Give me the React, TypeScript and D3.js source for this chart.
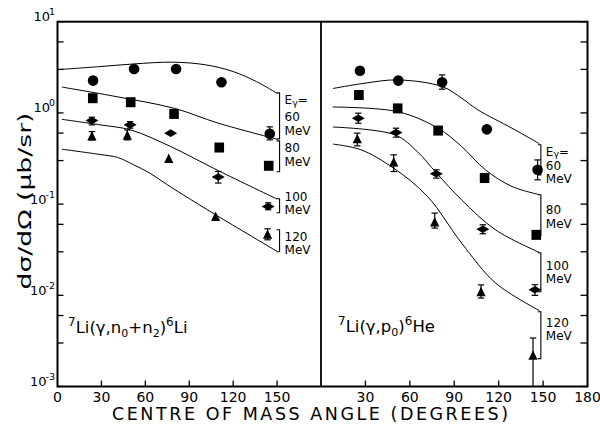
import React from 'react';
import * as d3 from 'd3';

// ---------- axis ticks ----------
const ANGLE_TICKS_LEFT = [0, 30, 60, 90, 120, 150];
const ANGLE_TICKS_RIGHT = [0, 30, 60, 90, 120, 150, 180];
const DECADES = [1e-3, 1e-2, 1e-1, 1, 10];
const DECADE_EXP = ['-3', '-2', '-1', '0', '1'];
const MINOR_MULT = [3, 6];
const ENERGIES = ['60', '80', '100', '120'];

// ---------- left panel: 7Li(γ,n0+n2)6Li ----------
const L_CIRCLE_ANG = [24.3, 52.3, 81, 112, 145];
const L_CIRCLE_VAL = [2.26, 3.03, 3.03, 2.17, 0.59];
const L_CIRCLE_ERR = [null, null, null, null, [0.506, 0.703]];
const L_SQUARE_ANG = [24.1, 50, 79.6, 110.5, 144.3];
const L_SQUARE_VAL = [1.45, 1.31, 0.975, 0.417, 0.263];
const L_SQUARE_ERR = [null, null, null, null, null];
const L_DIAMOND_ANG = [23.5, 49.6, 77.3, 109.8, 143.9];
const L_DIAMOND_VAL = [0.824, 0.74, 0.6, 0.198, 0.094];
const L_DIAMOND_ERR = [[0.739, 0.897], [0.68, 0.803], null, [0.17, 0.228], [0.0867, 0.1033]];
const L_TRIANGLE_ANG = [23.5, 47.7, 76, 108, 143.5];
const L_TRIANGLE_VAL = [0.55, 0.56, 0.313, 0.072, 0.046];
const L_TRIANGLE_ERR = [[0.506, 0.624], [0.506, 0.65], null, null, [0.0406, 0.0536]];

const L_CURVE_60 = [[3, 3.0], [29, 3.22], [52, 3.44], [79, 3.6], [102, 3.35], [120, 2.84], [136, 2.2], [150, 1.64]];
const L_CURVE_80 = [[3, 1.92], [40, 1.51], [80, 1.12], [110, 0.77], [150, 0.515]];
const L_CURVE_100 = [[3, 0.85], [29, 0.74], [50, 0.65], [77, 0.43], [110, 0.232], [150, 0.1135]];
const L_CURVE_120 = [[3, 0.4], [29, 0.35], [41, 0.325], [52, 0.27], [63, 0.219], [75, 0.163], [86, 0.126], [108, 0.0764], [150, 0.0303]];

// ---------- right panel: 7Li(γ,p0)6He ----------
const R_CIRCLE_ANG = [26.3, 52.2, 81.8, 112, 146.3];
const R_CIRCLE_VAL = [2.9, 2.26, 2.17, 0.66, 0.238];
const R_CIRCLE_ERR = [null, null, [1.82, 2.61], null, [0.1846, 0.305]];
const R_SQUARE_ANG = [25.6, 51.8, 79.1, 110.5, 145.4];
const R_SQUARE_VAL = [1.57, 1.12, 0.64, 0.193, 0.046];
const R_SQUARE_ERR = [null, null, null, null, null];
const R_DIAMOND_ANG = [25.2, 50.7, 77.9, 109.3, 144.5];
const R_DIAMOND_VAL = [0.875, 0.61, 0.215, 0.053, 0.0115];
const R_DIAMOND_ERR = [[0.771, 0.993], [0.542, 0.68], [0.1927, 0.2377], [0.0473, 0.0593], [0.00998, 0.01306]];
const R_TRIANGLE_ANG = [24.5, 49.1, 76.8, 108.1, 143.2];
const R_TRIANGLE_VAL = [0.515, 0.286, 0.063, 0.0108, 0.00218];
const R_TRIANGLE_ERR = [[0.4355, 0.6], [0.2275, 0.3467], [0.0546, 0.0797], [0.00933, 0.013], [0.001, 0.0034]];

const R_CURVE_60 = [[8, 1.85], [29, 2.11], [52, 2.3], [82, 1.94], [95, 1.45], [106, 1.08], [129, 0.68], [147.5, 0.46]];
const R_CURVE_80 = [[8, 1.16], [52, 1.03], [79, 0.68], [95, 0.428], [111, 0.238], [129, 0.156], [147.5, 0.127]];
const R_CURVE_100 = [[8, 0.7], [50, 0.574], [65, 0.377], [78, 0.219], [95, 0.111], [118, 0.052], [147.5, 0.0295]];
const R_CURVE_120 = [[8, 0.455], [27, 0.394], [49, 0.248], [72, 0.121], [95, 0.0373], [118, 0.0136], [147.5, 0.0068]];

// bracket ranges (value units) for energy labels
const L_BRACKETS = [[1.656, 0.519], [0.493, 0.226], [0.1143, 0.0803], [0.0523, 0.03]];
const R_BRACKETS = [[0.447, 0.2094], [0.1265, 0.045], [0.0293, 0.01094], [0.0066, 0.00202]];

// ---------- layout ----------
const W = 600, H = 432;
const X0 = 57.5, XM = 321, X1 = 587.5, YT = 21.7, YB = 386.5;
const FONT = '"DejaVu Sans", Verdana, sans-serif';

const xL = d3.scaleLinear().domain([0, 180]).range([X0, XM]);
const xR = d3.scaleLinear().domain([0, 180]).range([XM, X1]);
const y = d3.scaleLog().domain([1e-3, 10]).range([YB, YT]);

type Shape = 'circle' | 'square' | 'diamond' | 'triangle';

function Marker({ shape, cx, cy }: { shape: Shape; cx: number; cy: number }) {
  if (shape === 'circle') return <circle cx={cx} cy={cy} r={5.3} fill="#000" />;
  if (shape === 'square') return <rect x={cx - 4.8} y={cy - 5} width={9.6} height={10} fill="#000" />;
  if (shape === 'diamond')
    return <path d={`M${cx - 6.5},${cy} L${cx},${cy - 3.8} L${cx + 6.5},${cy} L${cx},${cy + 3.8} Z`} fill="#000" />;
  return <path d={`M${cx},${cy - 5.5} L${cx + 4.6},${cy + 4} L${cx - 4.6},${cy + 4} Z`} fill="#000" />;
}

function Series({ x, ang, val, err, shape }: { x: any; ang: number[]; val: number[]; err: any[]; shape: Shape }) {
  return (
    <g>
      {ang.map((a, i) => {
        const cx = x(a);
        const cy = y(val[i]);
        const e = err[i];
        return (
          <g key={i}>
            {e && (
              <g stroke="#000" strokeWidth={1.2}>
                <line x1={cx} x2={cx} y1={y(e[0])} y2={y(e[1])} />
                <line x1={cx - 3.2} x2={cx + 3.2} y1={y(e[1])} y2={y(e[1])} />
                {e[0] > 1e-3 && <line x1={cx - 3.2} x2={cx + 3.2} y1={y(e[0])} y2={y(e[0])} />}
              </g>
            )}
            <Marker shape={shape} cx={cx} cy={cy} />
          </g>
        );
      })}
    </g>
  );
}

const line = (x: any) =>
  d3
    .line<number[]>()
    .x((d) => x(d[0]))
    .y((d) => y(d[1]))
    .curve(d3.curveCatmullRom.alpha(0.5));

function Brackets({ x, bx, ranges, offsets }: { x: any; bx: number; ranges: number[][]; offsets: number[][] }) {
  const px = x(bx);
  return (
    <g>
      {ranges.map((r, i) => {
        const t = y(r[0]);
        const b = y(r[1]);
        const lines = i === 0 ? ['E', ENERGIES[i], 'MeV'] : [ENERGIES[i], 'MeV'];
        return (
          <g key={i}>
            <path d={`M${px - 3},${t} H${px} V${b} H${px - 3}`} fill="none" stroke="#000" strokeWidth={1.1} />
            {lines.map((s, j) => (
              <text key={j} x={px + 5} y={t + offsets[i][j]} fontSize={12} fontFamily={FONT} fill="#000">
                {s === 'E' ? (
                  <>
                    E<tspan fontSize={9.5} dy={1.5}>γ</tspan>
                    <tspan dy={-1.5}>=</tspan>
                  </>
                ) : (
                  s
                )}
              </text>
            ))}
          </g>
        );
      })}
    </g>
  );
}

export default function App() {
  const minorVals: number[] = [];
  DECADES.slice(0, 4).forEach((d) => MINOR_MULT.forEach((m) => minorVals.push(d * m)));
  const allYTicks = [...DECADES, ...minorVals];
  const lL = line(xL);
  const lR = line(xR);

  return (
    <svg width={W} height={H} style={{ position: 'absolute', left: 0, top: 0, background: '#fff' }}>
      <rect x={0} y={0} width={W} height={H} fill="#fff" />
      {/* curves */}
      <g fill="none" stroke="#000" strokeWidth={1}>
        {[L_CURVE_60, L_CURVE_80, L_CURVE_100, L_CURVE_120].map((c, i) => (
          <path key={'l' + i} d={lL(c) || ''} />
        ))}
        {[R_CURVE_60, R_CURVE_80, R_CURVE_100, R_CURVE_120].map((c, i) => (
          <path key={'r' + i} d={lR(c) || ''} />
        ))}
      </g>

      {/* data */}
      <Series x={xL} ang={L_CIRCLE_ANG} val={L_CIRCLE_VAL} err={L_CIRCLE_ERR} shape="circle" />
      <Series x={xL} ang={L_SQUARE_ANG} val={L_SQUARE_VAL} err={L_SQUARE_ERR} shape="square" />
      <Series x={xL} ang={L_DIAMOND_ANG} val={L_DIAMOND_VAL} err={L_DIAMOND_ERR} shape="diamond" />
      <Series x={xL} ang={L_TRIANGLE_ANG} val={L_TRIANGLE_VAL} err={L_TRIANGLE_ERR} shape="triangle" />
      <Series x={xR} ang={R_CIRCLE_ANG} val={R_CIRCLE_VAL} err={R_CIRCLE_ERR} shape="circle" />
      <Series x={xR} ang={R_SQUARE_ANG} val={R_SQUARE_VAL} err={R_SQUARE_ERR} shape="square" />
      <Series x={xR} ang={R_DIAMOND_ANG} val={R_DIAMOND_VAL} err={R_DIAMOND_ERR} shape="diamond" />
      <Series x={xR} ang={R_TRIANGLE_ANG} val={R_TRIANGLE_VAL} err={R_TRIANGLE_ERR} shape="triangle" />

      {/* brackets + energy labels */}
      <Brackets x={xL} bx={151.7} ranges={L_BRACKETS} offsets={[[11.5, 28, 42], [11.5, 25], [2, 15.5], [11, 24.5]]} />
      <Brackets x={xR} bx={148.5} ranges={R_BRACKETS} offsets={[[11, 25, 38.5], [19.5, 33], [17, 30.5], [15, 28.5]]} />

      {/* frame */}
      <g stroke="#000" fill="none">
        <rect x={X0} y={YT} width={X1 - X0} height={YB - YT} strokeWidth={2} />
        <line x1={XM} x2={XM} y1={YT} y2={YB} strokeWidth={1.8} />
      </g>

      {/* y ticks */}
      <g stroke="#000" strokeWidth={1.3}>
        {allYTicks.map((v, i) => (
          <g key={i}>
            <line x1={X0} x2={X0 + 6} y1={y(v)} y2={y(v)} />
            <line x1={X1 - 7} x2={X1} y1={y(v)} y2={y(v)} />
          </g>
        ))}
      </g>
      <g fontFamily={FONT} fill="#000">
        {DECADES.map((d, i) => (
          <text key={i} x={55} y={y(d) - 0.5} textAnchor="end" fontSize={13}>
            10<tspan fontSize={9.5} dy={-6} dx={-1}>{DECADE_EXP[i]}</tspan>
          </text>
        ))}
      </g>

      {/* x ticks */}
      <g stroke="#000" strokeWidth={1.3}>
        {ANGLE_TICKS_LEFT.slice(1).map((a) => (
          <line key={'l' + a} x1={xL(a)} x2={xL(a)} y1={YB} y2={YB - 6} />
        ))}
        {ANGLE_TICKS_RIGHT.slice(1, 6).map((a) => (
          <line key={'r' + a} x1={xR(a)} x2={xR(a)} y1={YB} y2={YB - 6} />
        ))}
      </g>
      <g fontFamily={FONT} fill="#000" fontSize={14} textAnchor="middle">
        {ANGLE_TICKS_LEFT.map((a) => (
          <text key={'l' + a} x={xL(a)} y={401.5}>{a}</text>
        ))}
        {ANGLE_TICKS_RIGHT.slice(1).map((a) => (
          <text key={'r' + a} x={xR(a)} y={401.5}>{a}</text>
        ))}
      </g>

      {/* axis titles */}
      <text x={112} y={420} fontFamily={FONT} fontSize={17.5} textLength={396} lengthAdjust="spacing" fill="#000">
        CENTRE  OF  MASS  ANGLE  (DEGREES)
      </text>
      <text
        transform="translate(31,201) rotate(-90)"
        textAnchor="middle"
        fontFamily={FONT}
        fontSize={18}
        textLength={177}
        lengthAdjust="spacingAndGlyphs"
        fill="#000"
      >
        dσ/dΩ (μb/sr)
      </text>

      {/* panel labels */}
      <text x={68} y={333} fontFamily={FONT} fontSize={16.5} fill="#000">
        <tspan fontSize={12} dy={-7}>7</tspan>
        <tspan dy={7}>Li(γ,n</tspan>
        <tspan fontSize={11} dy={4}>0</tspan>
        <tspan dy={-4}>+n</tspan>
        <tspan fontSize={11} dy={4}>2</tspan>
        <tspan dy={-4}>)</tspan>
        <tspan fontSize={12} dy={-7}>6</tspan>
        <tspan dy={7}>Li</tspan>
      </text>
      <text x={338} y={332} fontFamily={FONT} fontSize={16.5} fill="#000">
        <tspan fontSize={12} dy={-7}>7</tspan>
        <tspan dy={7}>Li(γ,p</tspan>
        <tspan fontSize={11} dy={4}>0</tspan>
        <tspan dy={-4}>)</tspan>
        <tspan fontSize={12} dy={-7}>6</tspan>
        <tspan dy={7}>He</tspan>
      </text>
    </svg>
  );
}
